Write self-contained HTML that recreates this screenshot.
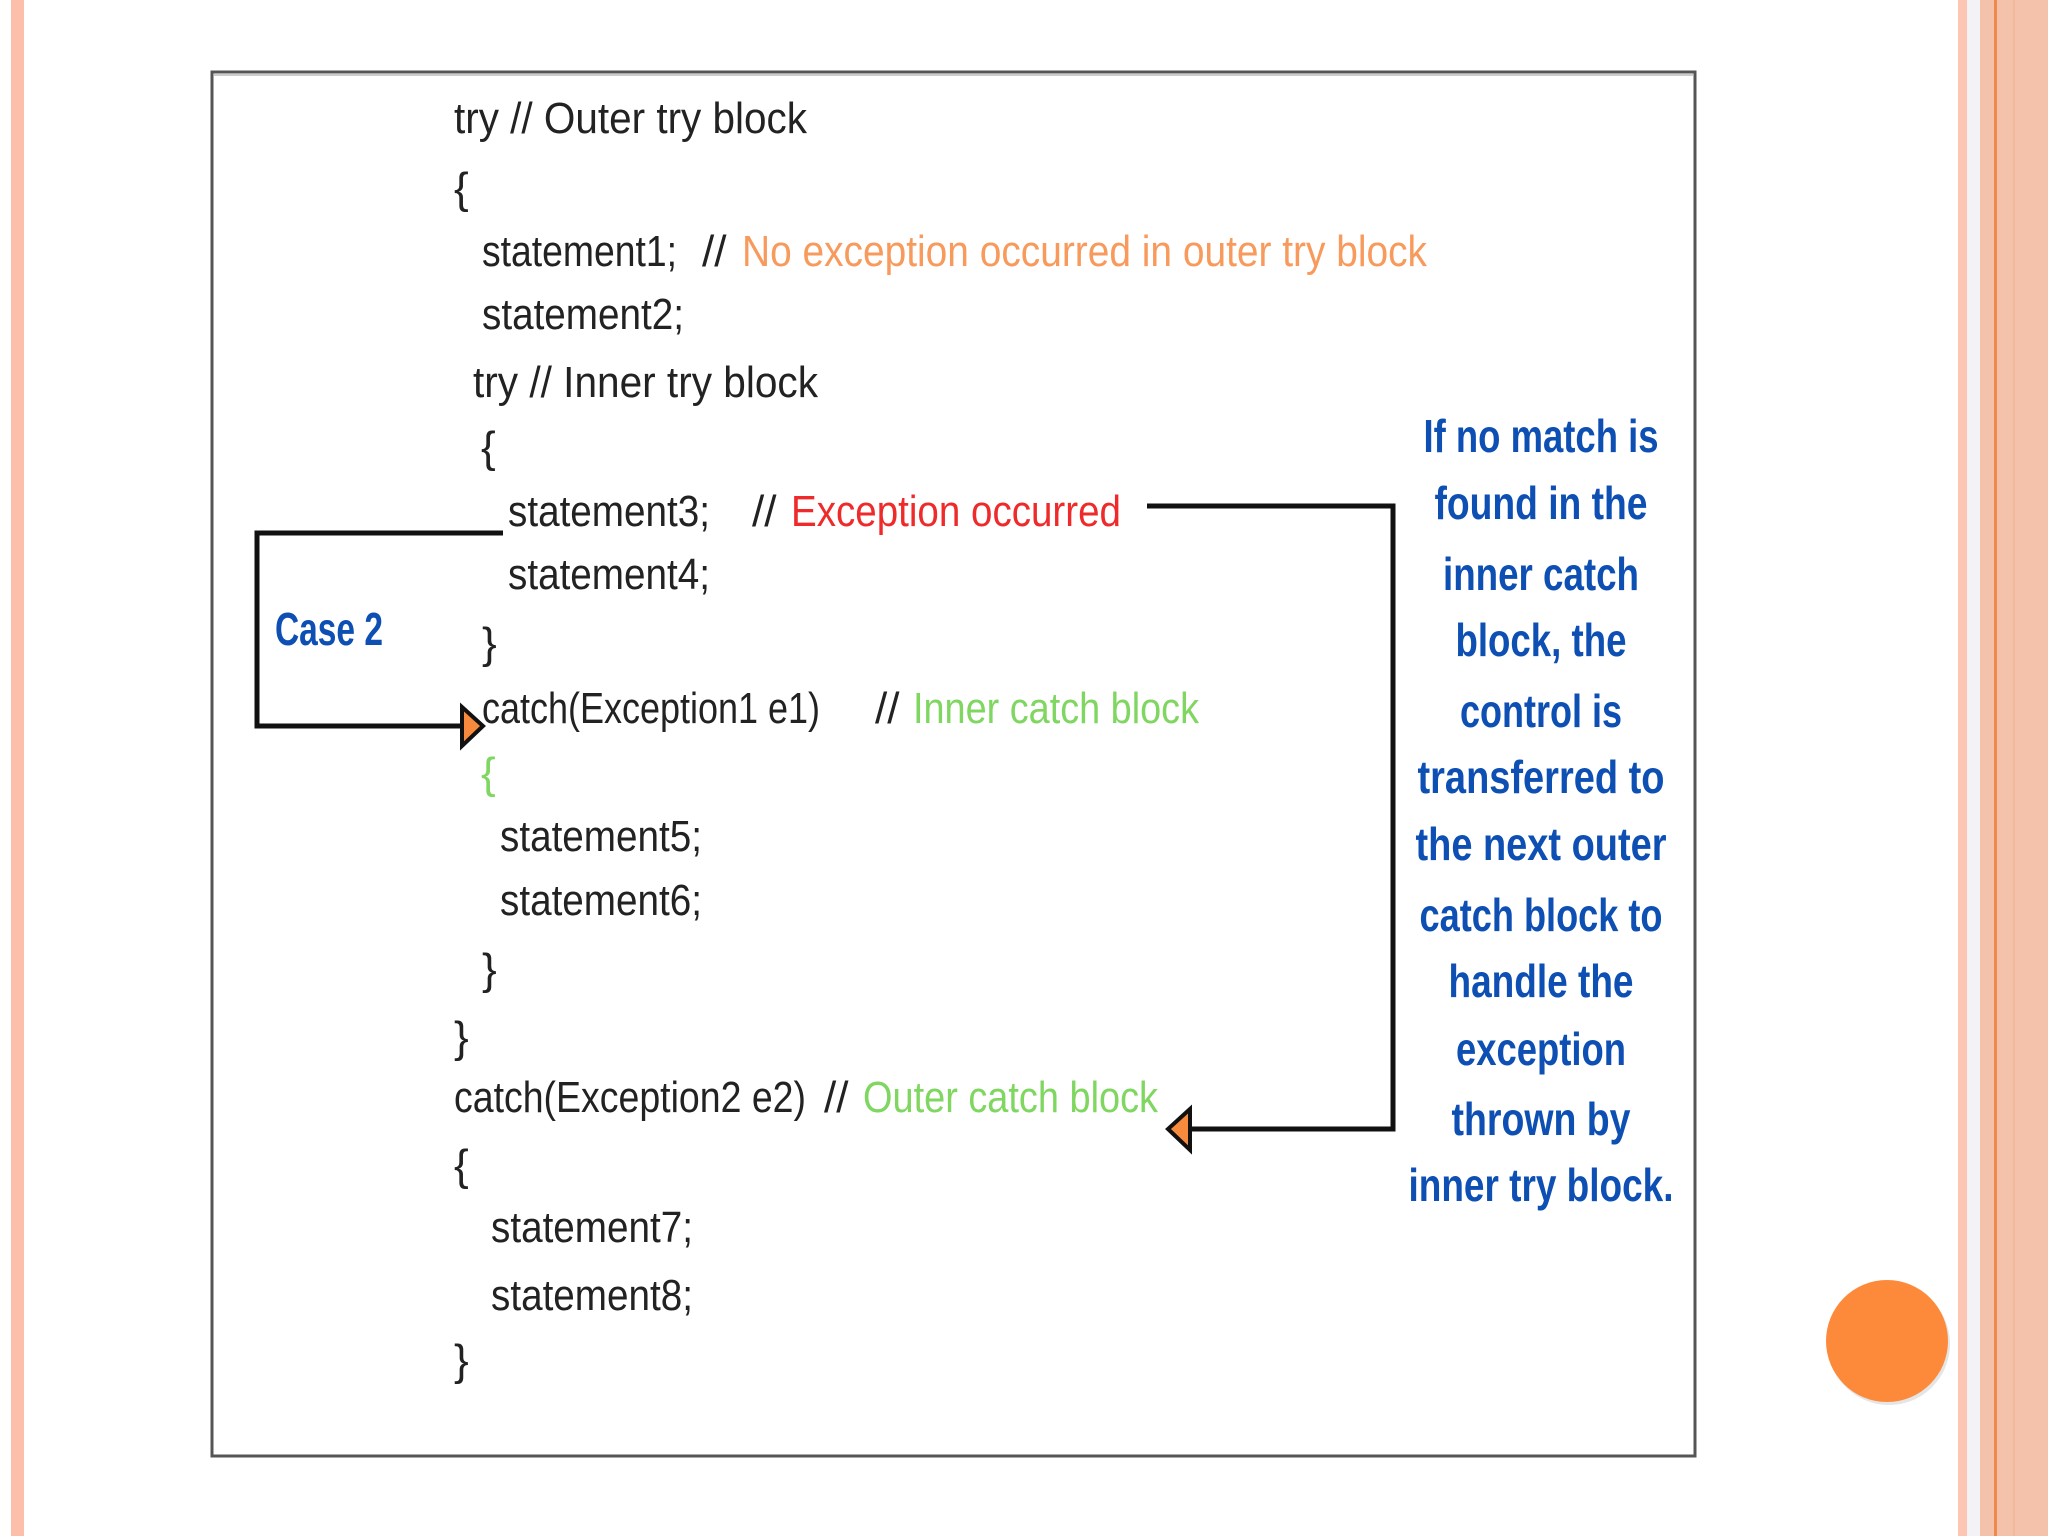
<!DOCTYPE html>
<html><head><meta charset="utf-8"><style>
html,body{margin:0;padding:0;background:#fff;}
svg{display:block}
</style></head><body>
<svg width="2048" height="1536" viewBox="0 0 2048 1536" xmlns="http://www.w3.org/2000/svg">
<rect width="2048" height="1536" fill="#fff"/>
<rect x="11" y="0" width="13" height="1536" fill="#fcbfa9"/>
<rect x="1958" y="0" width="9" height="1536" fill="#fcc6b3"/>
<rect x="1967" y="0" width="13" height="1536" fill="#f3f3f5"/>
<rect x="1980" y="0" width="68" height="1536" fill="#f4c2ab"/>
<rect x="1994" y="0" width="3" height="1536" fill="#f08a4a"/>
<rect x="2013" y="0" width="2" height="1536" fill="#f1b89c"/>
<rect x="212" y="72" width="1483" height="1384" fill="#fff" stroke="#555" stroke-width="3"/>
<line x1="214" y1="75" x2="1693" y2="75" stroke="#ccc" stroke-width="2"/>
<g font-family="'Liberation Sans Narrow','Liberation Sans',sans-serif" font-size="44" fill="#222">
<text x="454" y="133" textLength="353" lengthAdjust="spacingAndGlyphs">try // Outer try block</text>
<text x="454" y="203">{</text>
<text x="482" y="266" textLength="195" lengthAdjust="spacingAndGlyphs">statement1;</text>
<text x="702" y="266">//</text>
<text x="742" y="266" fill="#f79a5c" textLength="685" lengthAdjust="spacingAndGlyphs">No exception occurred in outer try block</text>
<text x="482" y="329" textLength="202" lengthAdjust="spacingAndGlyphs">statement2;</text>
<text x="473" y="397" textLength="345" lengthAdjust="spacingAndGlyphs">try // Inner try block</text>
<text x="481" y="462">{</text>
<text x="508" y="526" textLength="202" lengthAdjust="spacingAndGlyphs">statement3;</text>
<text x="752" y="526">//</text>
<text x="791" y="526" fill="#ee2a2a" textLength="330" lengthAdjust="spacingAndGlyphs">Exception occurred</text>
<text x="508" y="589" textLength="202" lengthAdjust="spacingAndGlyphs">statement4;</text>
<text x="482" y="658">}</text>
<text x="482" y="723" textLength="338" lengthAdjust="spacingAndGlyphs">catch(Exception1 e1)</text>
<text x="875" y="723">//</text>
<text x="913" y="723" fill="#7fd660" textLength="286" lengthAdjust="spacingAndGlyphs">Inner catch block</text>
<text x="481" y="788" fill="#7fd660">{</text>
<text x="500" y="851" textLength="202" lengthAdjust="spacingAndGlyphs">statement5;</text>
<text x="500" y="915" textLength="202" lengthAdjust="spacingAndGlyphs">statement6;</text>
<text x="482" y="984">}</text>
<text x="454" y="1052">}</text>
<text x="454" y="1112" textLength="352" lengthAdjust="spacingAndGlyphs">catch(Exception2 e2)</text>
<text x="824" y="1112">//</text>
<text x="863" y="1112" fill="#7fd660" textLength="295" lengthAdjust="spacingAndGlyphs">Outer catch block</text>
<text x="454" y="1180">{</text>
<text x="491" y="1242" textLength="202" lengthAdjust="spacingAndGlyphs">statement7;</text>
<text x="491" y="1310" textLength="202" lengthAdjust="spacingAndGlyphs">statement8;</text>
<text x="454" y="1375">}</text>
</g>
<g font-family="'Liberation Sans Narrow','Liberation Sans',sans-serif" font-size="46" font-weight="bold" fill="#0d4fb3" text-anchor="middle" lengthAdjust="spacingAndGlyphs">
<text x="1541" y="452" textLength="235" lengthAdjust="spacingAndGlyphs">If no match is</text>
<text x="1541" y="519" textLength="213" lengthAdjust="spacingAndGlyphs">found in the</text>
<text x="1541" y="590" textLength="196" lengthAdjust="spacingAndGlyphs">inner catch</text>
<text x="1541" y="656" textLength="171" lengthAdjust="spacingAndGlyphs">block, the</text>
<text x="1541" y="727" textLength="162" lengthAdjust="spacingAndGlyphs">control is</text>
<text x="1541" y="793" textLength="247" lengthAdjust="spacingAndGlyphs">transferred to</text>
<text x="1541" y="860" textLength="251" lengthAdjust="spacingAndGlyphs">the next outer</text>
<text x="1541" y="931" textLength="243" lengthAdjust="spacingAndGlyphs">catch block to</text>
<text x="1541" y="997" textLength="185" lengthAdjust="spacingAndGlyphs">handle the</text>
<text x="1541" y="1065" textLength="170" lengthAdjust="spacingAndGlyphs">exception</text>
<text x="1541" y="1135" textLength="179" lengthAdjust="spacingAndGlyphs">thrown by</text>
<text x="1541" y="1201" textLength="265" lengthAdjust="spacingAndGlyphs">inner try block.</text>
<text x="329" y="645" textLength="108" lengthAdjust="spacingAndGlyphs">Case 2</text>
</g>
<g fill="none" stroke="#111" stroke-width="5">
<polyline points="503,533 257,533 257,726 462,726"/>
<polyline points="1147,506 1393,506 1393,1129 1190,1129"/>
</g>
<polygon points="462,707 483,726 462,746" fill="#f78a3c" stroke="#111" stroke-width="4"/>
<polygon points="1190,1109 1168,1129 1190,1150" fill="#f78a3c" stroke="#111" stroke-width="4"/>
<circle cx="1889" cy="1344" r="61" fill="#ccc" opacity="0.5"/>
<circle cx="1887" cy="1341" r="61" fill="#fd8a3a"/>
</svg>
</body></html>
